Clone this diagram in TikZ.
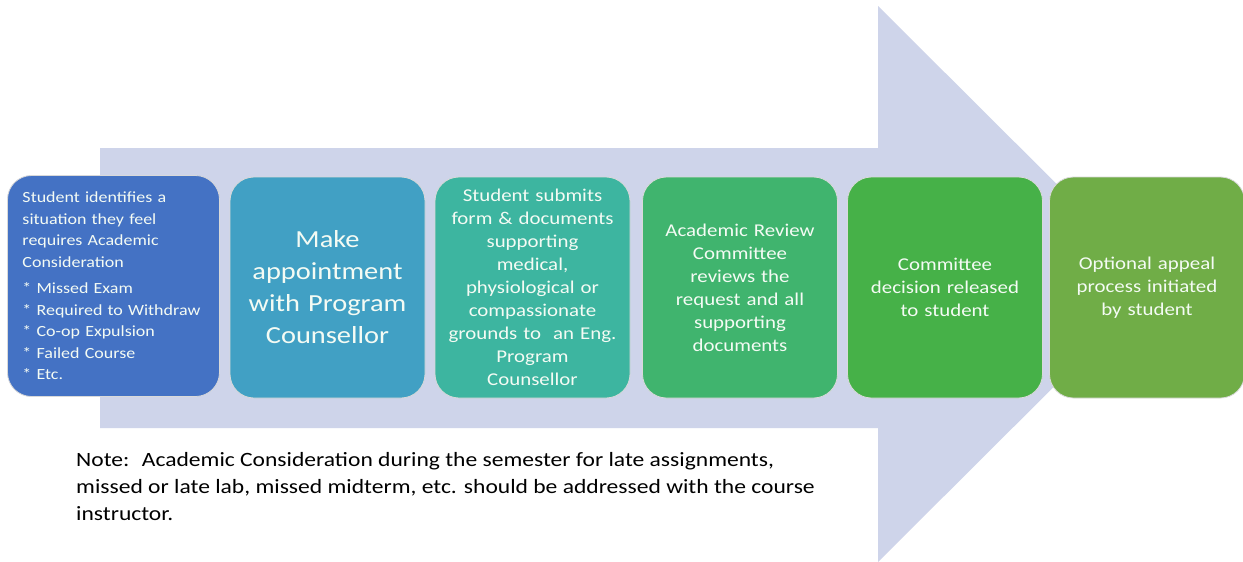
\documentclass[tikz,border=0pt]{standalone}
\usepackage{fontspec}
\setmainfont{Carlito}[FakeStretch=1.16]
\definecolor{arrowfill}{HTML}{CED4EA}
\definecolor{cA}{HTML}{4472C4}
\definecolor{cB}{HTML}{41A0C4}
\definecolor{cC}{HTML}{3DB5A0}
\definecolor{cD}{HTML}{40B46E}
\definecolor{cE}{HTML}{46B148}
\definecolor{cF}{HTML}{70AD47}
\definecolor{txt}{HTML}{F4FBF4}
\begin{document}
\begin{tikzpicture}[x=1pt,y=-1pt,
  stepbox/.style={rounded corners=24pt, draw=white!85!black, line width=0.8pt,
    minimum width=195pt, minimum height=221pt, inner xsep=8pt, inner ysep=4pt,
    text=txt, align=center, text width=179pt},
  notetext/.style={align=left, anchor=north west, inner sep=0pt, text=black}]
\useasboundingbox (0,0) rectangle (1243,562);
\fill[white] (0,0) rectangle (1243,562);
% big background arrow
\fill[arrowfill] (100,148) -- (878,148) -- (878,6) -- (1157,284) -- (878,562) -- (878,428) -- (100,428) -- cycle;
% boxes
\node[stepbox, fill=cA, minimum width=212pt, text width=182pt, inner xsep=15pt, align=left,
  font=\fontsize{15.5}{21.5}\selectfont] (b1) at (113.5,286)
  {Student identifies a\\ situation they feel\\ requires Academic\\ Consideration\\[5pt]
   {*} Missed Exam\\ {*} Required to Withdraw\\ {*} Co-op Expulsion\\ {*} Failed Course\\ {*} Etc.};
\node[stepbox, fill=cB, font=\fontsize{24.5}{32}\selectfont] (b2) at (327.5,287.5)
  {Make\\ appointment\\ with Program\\ Counsellor};
\node[stepbox, fill=cC, font=\fontsize{18}{23}\selectfont] (b3) at (532.5,287.5)
  {Student submits\\ form \& documents\\ supporting\\ medical,\\ physiological or\\ compassionate\\ grounds to~ an Eng.\\ Program\\ Counsellor};
\node[stepbox, fill=cD, font=\fontsize{18}{23}\selectfont] (b4) at (740,287.5)
  {Academic Review\\ Committee\\ reviews the\\ request and all\\ supporting\\ documents};
\node[stepbox, fill=cE, font=\fontsize{18}{23}\selectfont] (b5) at (945,287.5)
  {Committee\\ decision released\\ to student};
\node[stepbox, fill=cF, font=\fontsize{18}{23}\selectfont] (b6) at (1147,287.5)
  {Optional appeal\\ process initiated\\ by student};
% note
\node[notetext, font=\fontsize{20.3}{27}\selectfont] (note) at (76,452)
  {Note:~ Academic Consideration during the semester for late assignments,\\
   missed or late lab, missed midterm, etc. should be addressed with the course\\
   instructor.};
\end{tikzpicture}
\end{document}
